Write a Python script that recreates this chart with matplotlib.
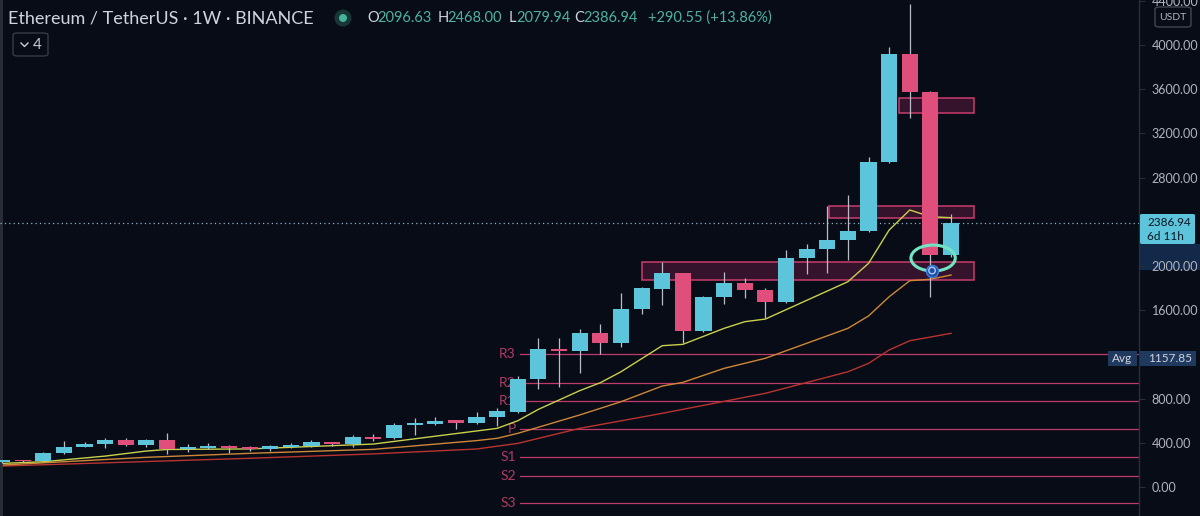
import matplotlib
matplotlib.use('Agg')
import matplotlib.pyplot as plt
from matplotlib.patches import Rectangle, FancyBboxPatch, Ellipse
import numpy as np

plt.rcParams['font.family'] = ['Lato', 'DejaVu Sans']

# weekly candles ETH/USDT
opens  = [226, 242, 232, 310, 365, 386, 428, 383, 425, 347, 353, 371, 359, 341, 365, 374,
          407, 392, 452, 441, 558, 570, 604, 582, 631, 679, 975, 1252, 1228, 1391, 1306, 1608,
          1792, 1934, 1412, 1722, 1843, 1780, 1677, 2070, 2151, 2235, 2317, 2944, 3919, 3578, 2096.63]
highs  = [248, 246, 318, 413, 404, 441, 443, 431, 486, 386, 395, 380, 368, 378, 395, 422,
          407, 468, 480, 582, 622, 631, 606, 676, 718, 1005, 1346, 1346, 1433, 1472, 1758, 1810,
          2039, 1934, 1730, 1943, 1889, 1798, 2145, 2196, 2543, 2643, 2984, 3979, 4371, 3586, 2468.00]
lows   = [222, 228, 228, 298, 359, 356, 371, 365, 299, 319, 341, 308, 323, 326, 356, 360,
          368, 365, 419, 435, 471, 558, 522, 570, 552, 672, 884, 908, 1035, 1201, 1264, 1563,
          1647, 1300, 1400, 1656, 1708, 1527, 1662, 1925, 1939, 2054, 2310, 2930, 3337, 1722, 2079.94]
closes = [242, 232, 310, 365, 389, 428, 383, 425, 347, 362, 374, 356, 344, 371, 380, 407,
          389, 450, 437, 561, 579, 600, 582, 636, 688, 975, 1249, 1228, 1391, 1300, 1608, 1798,
          1934, 1415, 1722, 1843, 1783, 1677, 2072, 2151, 2235, 2317, 2944, 3919, 3578, 2096.63, 2386.94]

# moving averages (vertices)
ma_fast_idx = [0, 2, 5, 7, 8, 12, 18, 24, 25, 26, 28, 29, 30, 32, 33, 35, 36, 37, 41, 42, 43, 44, 45, 46]
ma_fast_val = [214, 229, 280, 326, 340, 345, 389, 531, 600, 703, 872, 944, 1043, 1279, 1291, 1436,
               1496, 1520, 1858, 2024, 2326, 2507, 2446, 2437]
ma_mid_idx = [0, 7, 12, 18, 23, 24, 25, 28, 30, 32, 33, 35, 37, 41, 42, 43, 44, 45, 46]
ma_mid_val = [199, 269, 305, 341, 420, 441, 486, 652, 772, 914, 947, 1074, 1165, 1436, 1548, 1722,
              1867, 1880, 1919]
ma_slow_idx = [0, 12, 18, 23, 25, 28, 32, 33, 37, 41, 42, 43, 44, 46]
ma_slow_val = [190, 260, 300, 344, 395, 531, 667, 703, 848, 1043, 1119, 1240, 1324, 1391]

# pivot levels
pivot_names = ['R3', 'R2', 'R1', 'P', 'S1', 'S2', 'S3']
pivot_vals = [1201, 938, 781, 525, 269, 102, -148]

# drawn zones: (x start idx, x end idx, low, high)
zones = [(31.0, 47.1, 1870, 2033), (40.1, 47.1, 2437, 2543), (43.5, 47.1, 3387, 3518)]

last_price = 2386.94
avg_price = 1157.85
yticks = [0, 400, 800, 1200, 1600, 2000, 2400, 2800, 3200, 3600, 4000, 4400]
hidden_ticks = [1200, 2400]  # covered by the price / avg labels

BG = '#070c17'
UP = '#5cc5dc'
DOWN = '#e04f7b'

W, H = 1200, 516
fig = plt.figure(figsize=(12, 5.16), dpi=100, facecolor=BG)
ax = fig.add_axes([0, 0, 1139 / W, 1], facecolor=BG)

def fx(x):
    return x / W

def fy(y):
    return 1 - y / H

n = len(opens)
idx = np.arange(n)

# zones under candles
for x0, x1, lo, hi in zones:
    ax.add_patch(Rectangle((x0, lo), x1 - x0, hi - lo, facecolor='#35132c',
                           edgecolor='#c83e6c', lw=1.1, zorder=1))

# pivots
for name, v in zip(pivot_names, pivot_vals):
    ax.plot([25.1, 56], [v, v], color='#c03a68', lw=0.9, zorder=1.5)
    ax.text(24.9, v, name, color='#b13a62', fontsize=10, ha='right', va='center', zorder=1.5)

# moving averages
ax.plot(ma_slow_idx, ma_slow_val, color='#b9342f', lw=1.0, zorder=2)
ax.plot(ma_mid_idx, ma_mid_val, color='#cf8737', lw=1.0, zorder=2)
ax.plot(ma_fast_idx, ma_fast_val, color='#c9d04c', lw=1.0, zorder=2)

# candles
cols = [UP if c >= o else DOWN for o, c in zip(opens, closes)]
ax.vlines(idx, lows, highs, color='#b8bcc6', lw=0.9, zorder=3)
bottoms = [min(o, c) for o, c in zip(opens, closes)]
heights = [max(abs(c - o), 12) for o, c in zip(opens, closes)]
ax.bar(idx, heights, bottom=bottoms, width=0.78, color=cols, zorder=4, linewidth=0)

# last price dotted line
ax.axhline(last_price, color='#8fb2c6', lw=0.9, ls=(0, (1, 2.5)), zorder=2.5)

# hand drawn ellipse and marker
ax.add_patch(Ellipse((45.13, 2072), 2.15, 235, facecolor='none', edgecolor='#72e4c3', lw=2.2, zorder=6))
ax.scatter([45.08], [1959], s=75, facecolor='#1f4f9e', edgecolor='#3f7fe0', lw=1, zorder=7)
ax.scatter([45.08], [1959], s=22, facecolor='none', edgecolor='#a9c9ff', lw=1, zorder=8)

ax.set_xlim(-0.097, 55.11)
ax.set_ylim(-262, 4407)
for s in ['top', 'bottom', 'left']:
    ax.spines[s].set_visible(False)
ax.spines['right'].set_color('#2a2e39')
ax.spines['right'].set_linewidth(1)
ax.set_xticks([])
ax.yaxis.tick_right()
ax.set_yticks(yticks)
ax.set_yticklabels(['' if v in hidden_ticks else f'{v:.2f}' for v in yticks])
ax.tick_params(axis='y', colors='#2a2e39', labelcolor='#b2b5be', labelsize=9, length=4, pad=5)
ax.axvline(-0.05, color='#2a2e39', lw=2)

# band behind 2000 label
fig.add_artist(Rectangle((fx(1139), fy(270)), fx(61), 26 / H, transform=fig.transFigure,
                         facecolor='#13294a', edgecolor='none', zorder=-1))

# last price label
fig.add_artist(FancyBboxPatch((fx(1140), fy(244)), fx(55), 30 / H, transform=fig.transFigure,
                              boxstyle='round,pad=0,rounding_size=0.002', facecolor=UP,
                              edgecolor='none', zorder=5))
fig.text(fx(1147), fy(222), f'{last_price:.2f}', color='#0b1622', fontsize=8.5, va='center', zorder=6)
fig.text(fx(1147), fy(237), '6d 11h', color='#0b1622', fontsize=8.5, va='center', zorder=6)

# avg label
fig.add_artist(Rectangle((fx(1108), fy(366)), fx(29), 15 / H, transform=fig.transFigure,
                         facecolor='#1f3a5e', edgecolor='none', zorder=5))
fig.add_artist(Rectangle((fx(1140), fy(366)), fx(56), 15 / H, transform=fig.transFigure,
                         facecolor='#1f3a5e', edgecolor='none', zorder=5))
fig.text(fx(1122.5), fy(358.5), 'Avg', color='#d1d4dc', fontsize=8.5, ha='center', va='center', zorder=6)
fig.text(fx(1148), fy(358.5), f'{avg_price:.2f}', color='#d1d4dc', fontsize=8.5, va='center', zorder=6)

# USDT box
fig.add_artist(FancyBboxPatch((fx(1155), fy(27)), fx(36), 20 / H, transform=fig.transFigure,
                              boxstyle='round,pad=0,rounding_size=0.004', facecolor=BG,
                              edgecolor='#434651', lw=1, zorder=5))
fig.text(fx(1173), fy(17), 'USDT', color='#b2b5be', fontsize=7.5, ha='center', va='center', zorder=6)

# header
fig.text(fx(8), fy(18), 'Ethereum / TetherUS · 1W · BINANCE', color='#d1d4dc', fontsize=13, va='center')
fig.add_artist(Ellipse((fx(343), fy(18)), 17 / W, 17 / H, transform=fig.transFigure, facecolor='#173634',
                       edgecolor='none'))
fig.add_artist(Ellipse((fx(343), fy(18)), 8 / W, 8 / H, transform=fig.transFigure, facecolor='#45b39b',
                       edgecolor='none'))
GRN = '#4db3a0'
for lab, val, xl, xv in [('O', '2096.63', 367, 377), ('H', '2468.00', 438, 447),
                         ('L', '2079.94', 509, 516), ('C', '2386.94', 574, 583)]:
    fig.text(fx(xl), fy(18), lab, color='#d1d4dc', fontsize=10.5, va='center')
    fig.text(fx(xv), fy(18), val, color=GRN, fontsize=10.5, va='center')
fig.text(fx(648), fy(18), '+290.55 (+13.86%)', color=GRN, fontsize=10.5, va='center')

# collapse button
fig.add_artist(FancyBboxPatch((fx(13), fy(56)), fx(35), 23 / H, transform=fig.transFigure,
                              boxstyle='round,pad=0,rounding_size=0.004', facecolor=BG,
                              edgecolor='#363a45', lw=1))
fig.add_artist(plt.Line2D([fx(21), fx(24.5), fx(28)], [fy(43), fy(46.5), fy(43)],
                          transform=fig.transFigure, color='#c9ccd4', lw=1))
fig.text(fx(33), fy(45), '4', color='#c9ccd4', fontsize=11, va='center')

fig.savefig('out.png', dpi=100, facecolor=BG)
